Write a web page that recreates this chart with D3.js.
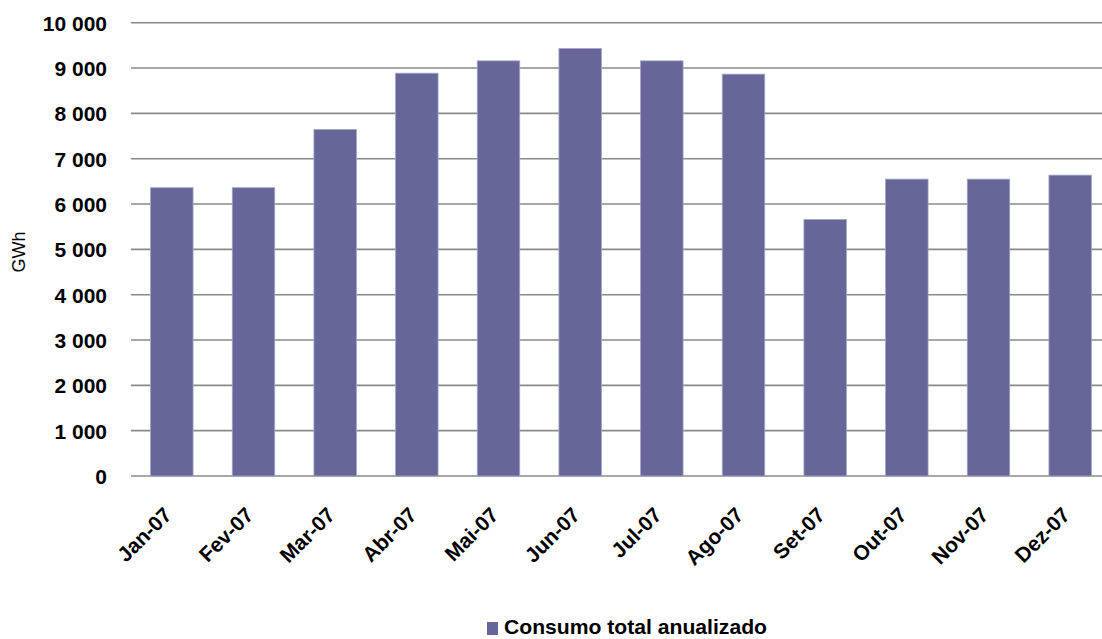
<!DOCTYPE html>
<html>
<head>
<meta charset="utf-8">
<script src="https://cdn.jsdelivr.net/npm/d3@7"></script>
<style>
  html, body { margin: 0; padding: 0; background: #fff; }
  svg { display: block; }
  text { font-family: "Liberation Sans", Arial, sans-serif; }
</style>
</head>
<body>
<script>
const categories = ["Jan-07","Fev-07","Mar-07","Abr-07","Mai-07","Jun-07","Jul-07","Ago-07","Set-07","Out-07","Nov-07","Dez-07"];
const consumo = [6360, 6360, 7645, 8886, 9158, 9431, 9158, 8865, 5660, 6549, 6549, 6637];
const yTicks = [0,1000,2000,3000,4000,5000,6000,7000,8000,9000,10000];
const seriesName = "Consumo total anualizado";
const yLabel = "GWh";

const W = 1102, H = 639;
const svg = d3.select("body").append("svg").attr("width", W).attr("height", H);

const x = d3.scaleBand().domain(categories).range([131, 1111]).paddingInner(0.48).paddingOuter(0.24);
const y = d3.scaleLinear().domain([0, 10000]).range([476, 22.7]);

const fmt = v => d3.format(",")(v).replace(/,/g, " ");

// gridlines
svg.append("g").selectAll("line").data(yTicks).join("line")
  .attr("x1", 131).attr("x2", 1111)
  .attr("y1", d => y(d)).attr("y2", d => y(d))
  .attr("stroke", "#8a8a8a").attr("stroke-width", 1.6);

// y axis labels
const yAxis = svg.append("g").attr("transform", "translate(107,0)")
  .call(d3.axisLeft(y).tickValues(yTicks).tickFormat(fmt).tickSize(0).tickPadding(0));
yAxis.select(".domain").remove();
yAxis.selectAll("text")
  .attr("font-family", "'Liberation Sans', Arial, sans-serif")
  .attr("font-size", 21).attr("font-weight", "bold").attr("fill", "#000")
  .attr("dy", "0.36em");

// bars
svg.append("g").selectAll("rect").data(consumo).join("rect")
  .attr("x", (d, i) => x(categories[i]))
  .attr("y", d => y(d))
  .attr("width", x.bandwidth())
  .attr("height", d => y(0) - y(d))
  .attr("fill", "#666699")
  .attr("stroke", "#a3a3cc").attr("stroke-width", 0.8);

// x axis labels
const xAxis = svg.append("g").attr("transform", `translate(0,${y(0)})`)
  .call(d3.axisBottom(x).tickSize(0).tickPadding(0));
xAxis.select(".domain").remove();
xAxis.selectAll("text")
  .attr("font-family", "'Liberation Sans', Arial, sans-serif")
  .attr("font-size", 21).attr("font-weight", "bold").attr("fill", "#000")
  .attr("text-anchor", "end")
  .attr("dy", "0.35em")
  .attr("transform", "translate(-4,35) rotate(-45)");

// y label
svg.append("text")
  .attr("transform", `translate(25,252) rotate(-90)`)
  .attr("text-anchor", "middle")
  .attr("font-size", 18).attr("fill", "#000")
  .text(yLabel);

// legend
const lg = svg.append("g");
lg.append("rect").attr("x", 487).attr("y", 622).attr("width", 11).attr("height", 13).attr("fill", "#666699");
lg.append("text").attr("x", 504).attr("y", 634)
  .attr("font-size", 20.5).attr("font-weight", "bold").attr("fill", "#000")
  .attr("textLength", 263).attr("lengthAdjust", "spacingAndGlyphs")
  .text(seriesName);
</script>
</body>
</html>
